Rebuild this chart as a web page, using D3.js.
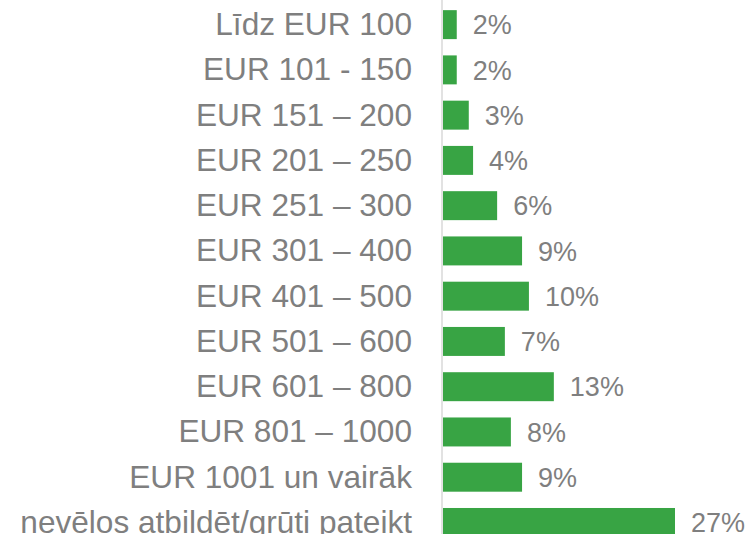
<!DOCTYPE html>
<html>
<head>
<meta charset="utf-8">
<script src="https://cdn.jsdelivr.net/npm/d3@7"></script>
<style>
  body { margin: 0; background: #fff; }
  svg text { font-family: Arial, "Liberation Sans", sans-serif; fill: #7f7f7f; }
</style>
</head>
<body>
<div id="graph"></div>
<script>
// Categories, top to bottom
var categories = [
    "Līdz EUR 100",
    "EUR 101 - 150",
    "EUR 151 – 200",
    "EUR 201 – 250",
    "EUR 251 – 300",
    "EUR 301 – 400",
    "EUR 401 – 500",
    "EUR 501 – 600",
    "EUR 601 – 800",
    "EUR 801 – 1000",
    "EUR 1001 un vairāk",
    "nevēlos atbildēt/grūti pateikt"
];

// Share of respondents, %
var values = [1.6, 1.6, 3.0, 3.5, 6.3, 9.2, 10.0, 7.2, 12.9, 7.9, 9.2, 27.0];

// Value labels as printed
var valueLabels = ["2%", "2%", "3%", "4%", "6%", "9%", "10%", "7%", "13%", "8%", "9%", "27%"];

var width = 752, height = 534;
var axisX = 442;

var svg = d3.select("#graph")
            .append("svg")
            .attr("width", width)
            .attr("height", height);

var x = d3.scaleLinear()
          .domain([0, 27])
          .range([axisX + 1, 675]);

var y = d3.scaleBand()
          .domain(categories)
          .range([2, 498 + 2 + 45.1])
          .paddingInner(0.36)
          .paddingOuter(0.18);

// bars
svg.selectAll("rect.bar")
   .data(values)
   .enter()
   .append("rect")
   .attr("class", "bar")
   .attr("x", x(0))
   .attr("y", function(d, i) { return y(categories[i]); })
   .attr("width", function(d) { return x(d) - x(0); })
   .attr("height", y.bandwidth())
   .attr("fill", "#38a444");

// vertical axis line
svg.append("line")
   .attr("x1", axisX).attr("x2", axisX)
   .attr("y1", 0).attr("y2", height)
   .attr("stroke", "#d9d9d9")
   .attr("stroke-width", 1.5);

// category labels
svg.selectAll("text.cat")
   .data(categories)
   .enter()
   .append("text")
   .attr("class", "cat")
   .attr("x", 412)
   .attr("y", function(d) { return y(d) + y.bandwidth() / 2; })
   .attr("dy", "0.33em")
   .attr("text-anchor", "end")
   .style("font-size", "31.6px")
   .text(function(d) { return d; });

// value labels
svg.selectAll("text.val")
   .data(values)
   .enter()
   .append("text")
   .attr("class", "val")
   .attr("x", function(d) { return x(d) + 16; })
   .attr("y", function(d, i) { return y(categories[i]) + y.bandwidth() / 2; })
   .attr("dy", "0.36em")
   .style("font-size", "27px")
   .text(function(d, i) { return valueLabels[i]; });
</script>
</body>
</html>
